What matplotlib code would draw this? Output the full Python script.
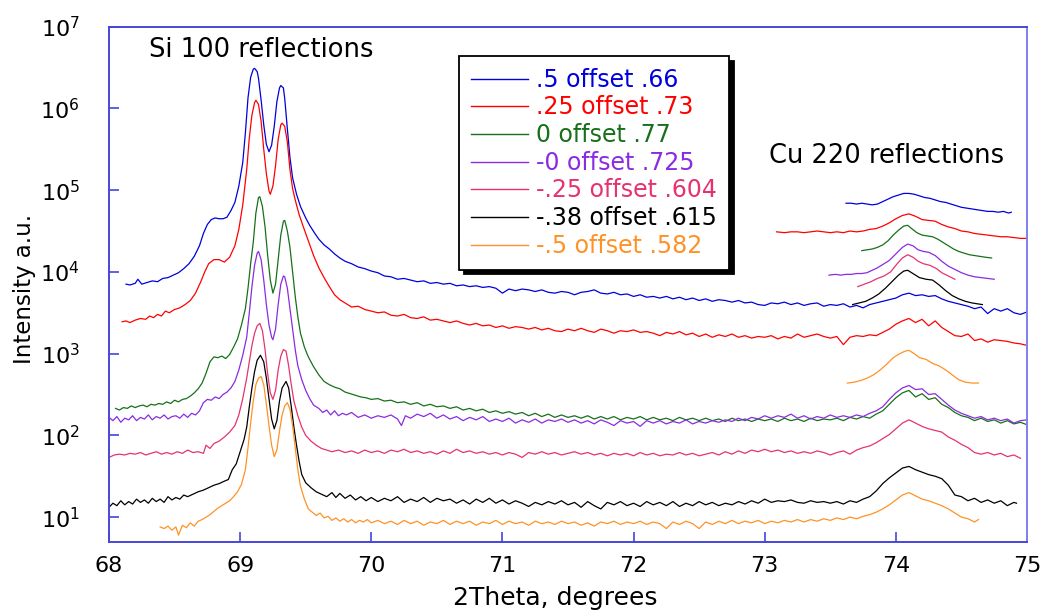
import numpy as np
import matplotlib
matplotlib.use("Agg")
import matplotlib.pyplot as plt

# ---------------- data: (2theta, log10 intensity) ----------------
blue_main = [
    (68.13, 3.85), (68.16, 3.84), (68.20, 3.86), (68.22, 3.91), (68.25, 3.85), (68.29, 3.87),
    (68.33, 3.89), (68.37, 3.88), (68.41, 3.92), (68.45, 3.93), (68.49, 3.96), (68.53, 3.99),
    (68.57, 4.04), (68.61, 4.10), (68.65, 4.19), (68.69, 4.32), (68.72, 4.47), (68.75, 4.58),
    (68.78, 4.64), (68.81, 4.66), (68.84, 4.65), (68.87, 4.65), (68.90, 4.67), (68.93, 4.75),
    (68.96, 4.85), (68.99, 5.05), (69.02, 5.34), (69.04, 5.70), (69.06, 6.13), (69.08, 6.38),
    (69.10, 6.48), (69.11, 6.49), (69.13, 6.45), (69.14, 6.37), (69.16, 6.10), (69.18, 5.80),
    (69.20, 5.56), (69.22, 5.47), (69.24, 5.55), (69.26, 5.78), (69.28, 6.08), (69.30, 6.25),
    (69.31, 6.28), (69.33, 6.25), (69.34, 6.12), (69.36, 5.75), (69.38, 5.40), (69.40, 5.15),
    (69.43, 4.95), (69.46, 4.80), (69.50, 4.66), (69.53, 4.57), (69.57, 4.47), (69.60, 4.40),
    (69.64, 4.33), (69.68, 4.28), (69.72, 4.22), (69.76, 4.17), (69.80, 4.13), (69.85, 4.10),
    (69.90, 4.06), (69.95, 4.04), (70.00, 4.01), (70.05, 3.99), (70.10, 3.95), (70.15, 3.94),
    (70.20, 3.91), (70.25, 3.92), (70.30, 3.90), (70.35, 3.88), (70.40, 3.89), (70.45, 3.86),
    (70.50, 3.87), (70.55, 3.85), (70.60, 3.86), (70.65, 3.83), (70.70, 3.84), (70.75, 3.82),
    (70.80, 3.83), (70.85, 3.81), (70.90, 3.82), (70.95, 3.80), (71.00, 3.74), (71.05, 3.79),
    (71.10, 3.77), (71.15, 3.79), (71.20, 3.78), (71.25, 3.76), (71.30, 3.78), (71.35, 3.75),
    (71.40, 3.74), (71.45, 3.76), (71.50, 3.75), (71.55, 3.72), (71.60, 3.75), (71.65, 3.76),
    (71.70, 3.78), (71.75, 3.74), (71.80, 3.73), (71.85, 3.75), (71.90, 3.72), (71.95, 3.73),
    (72.00, 3.70), (72.05, 3.72), (72.10, 3.69), (72.15, 3.70), (72.20, 3.68), (72.25, 3.70),
    (72.30, 3.67), (72.35, 3.69), (72.40, 3.66), (72.45, 3.68), (72.50, 3.65), (72.55, 3.67),
    (72.60, 3.64), (72.65, 3.66), (72.70, 3.65), (72.75, 3.63), (72.80, 3.65), (72.85, 3.62),
    (72.90, 3.63), (72.95, 3.60), (73.00, 3.59), (73.05, 3.62), (73.10, 3.61), (73.15, 3.63),
    (73.20, 3.60), (73.25, 3.62), (73.30, 3.59), (73.35, 3.61), (73.40, 3.62), (73.45, 3.58),
    (73.50, 3.60), (73.55, 3.59), (73.60, 3.61), (73.65, 3.57), (73.70, 3.59), (73.75, 3.56),
    (73.80, 3.60), (73.85, 3.62), (73.90, 3.64), (73.95, 3.66), (74.00, 3.68), (74.05, 3.72),
    (74.10, 3.74), (74.15, 3.71), (74.20, 3.72), (74.25, 3.70), (74.30, 3.71), (74.35, 3.67),
    (74.40, 3.64), (74.45, 3.62), (74.50, 3.60), (74.55, 3.58), (74.60, 3.55), (74.65, 3.57),
    (74.70, 3.49), (74.75, 3.55), (74.80, 3.52), (74.85, 3.55), (74.90, 3.50), (74.95, 3.48),
    (75.00, 3.51),
]
blue_cu = [
    (73.62, 4.84), (73.66, 4.84), (73.70, 4.83), (73.74, 4.84), (73.78, 4.83), (73.82, 4.82),
    (73.86, 4.83), (73.90, 4.86), (73.94, 4.89), (73.98, 4.92), (74.02, 4.94), (74.06, 4.96),
    (74.10, 4.96), (74.14, 4.95), (74.18, 4.93), (74.22, 4.91), (74.26, 4.90), (74.30, 4.88),
    (74.34, 4.86), (74.38, 4.85), (74.42, 4.83), (74.46, 4.81), (74.50, 4.79), (74.54, 4.78),
    (74.58, 4.77), (74.62, 4.76), (74.66, 4.75), (74.70, 4.74), (74.74, 4.74), (74.78, 4.73),
    (74.82, 4.74), (74.86, 4.72), (74.88, 4.73),
]
red_main = [
    (68.10, 3.39), (68.13, 3.40), (68.16, 3.38), (68.20, 3.41), (68.24, 3.43), (68.28, 3.42),
    (68.31, 3.46), (68.34, 3.44), (68.37, 3.48), (68.40, 3.46), (68.43, 3.52), (68.46, 3.50),
    (68.50, 3.54), (68.54, 3.56), (68.58, 3.60), (68.62, 3.65), (68.66, 3.74), (68.70, 3.88),
    (68.73, 4.00), (68.76, 4.10), (68.80, 4.15), (68.84, 4.15), (68.88, 4.12), (68.92, 4.18),
    (68.96, 4.32), (68.99, 4.52), (69.02, 4.82), (69.05, 5.25), (69.07, 5.64), (69.09, 5.92),
    (69.11, 6.07), (69.12, 6.10), (69.14, 6.05), (69.16, 5.84), (69.18, 5.50), (69.20, 5.20),
    (69.22, 4.99), (69.23, 4.95), (69.25, 5.05), (69.27, 5.30), (69.29, 5.62), (69.31, 5.80),
    (69.32, 5.82), (69.34, 5.78), (69.36, 5.59), (69.38, 5.25), (69.40, 5.02), (69.42, 4.88),
    (69.45, 4.70), (69.48, 4.56), (69.52, 4.38), (69.56, 4.20), (69.60, 4.05), (69.64, 3.93),
    (69.68, 3.82), (69.72, 3.72), (69.76, 3.66), (69.80, 3.62), (69.85, 3.57), (69.90, 3.58),
    (69.95, 3.54), (70.00, 3.52), (70.05, 3.50), (70.10, 3.51), (70.15, 3.47), (70.20, 3.46),
    (70.25, 3.48), (70.30, 3.44), (70.35, 3.43), (70.40, 3.45), (70.45, 3.41), (70.50, 3.42),
    (70.55, 3.40), (70.60, 3.38), (70.65, 3.40), (70.70, 3.37), (70.75, 3.35), (70.80, 3.37),
    (70.85, 3.34), (70.90, 3.35), (70.95, 3.32), (71.00, 3.34), (71.05, 3.31), (71.10, 3.33),
    (71.15, 3.32), (71.20, 3.30), (71.25, 3.32), (71.30, 3.29), (71.35, 3.31), (71.40, 3.28),
    (71.45, 3.27), (71.50, 3.30), (71.55, 3.28), (71.60, 3.31), (71.65, 3.28), (71.70, 3.26),
    (71.75, 3.30), (71.80, 3.28), (71.85, 3.25), (71.90, 3.28), (71.95, 3.27), (72.00, 3.29),
    (72.05, 3.26), (72.10, 3.27), (72.15, 3.25), (72.20, 3.22), (72.25, 3.26), (72.30, 3.24),
    (72.35, 3.27), (72.40, 3.23), (72.45, 3.25), (72.50, 3.21), (72.55, 3.24), (72.60, 3.20),
    (72.65, 3.23), (72.70, 3.21), (72.75, 3.24), (72.80, 3.20), (72.85, 3.22), (72.90, 3.19),
    (72.95, 3.21), (73.00, 3.20), (73.05, 3.22), (73.10, 3.18), (73.15, 3.21), (73.20, 3.19),
    (73.25, 3.24), (73.30, 3.20), (73.35, 3.22), (73.40, 3.24), (73.45, 3.21), (73.50, 3.19),
    (73.55, 3.21), (73.60, 3.11), (73.65, 3.20), (73.70, 3.22), (73.75, 3.21), (73.80, 3.23),
    (73.85, 3.22), (73.90, 3.26), (73.95, 3.30), (74.00, 3.36), (74.05, 3.40), (74.10, 3.43),
    (74.15, 3.38), (74.20, 3.42), (74.25, 3.34), (74.30, 3.40), (74.35, 3.32), (74.40, 3.27),
    (74.45, 3.22), (74.50, 3.21), (74.55, 3.24), (74.60, 3.16), (74.65, 3.18), (74.70, 3.14),
    (74.75, 3.17), (74.80, 3.16), (74.85, 3.15), (74.90, 3.13), (74.95, 3.12), (75.00, 3.10),
]
red_cu = [
    (73.09, 4.49), (73.15, 4.48), (73.20, 4.49), (73.25, 4.49), (73.30, 4.48), (73.35, 4.49),
    (73.40, 4.50), (73.45, 4.49), (73.50, 4.48), (73.55, 4.49), (73.60, 4.48), (73.65, 4.50),
    (73.70, 4.49), (73.75, 4.50), (73.80, 4.52), (73.85, 4.53), (73.90, 4.56), (73.95, 4.60),
    (74.00, 4.65), (74.05, 4.69), (74.10, 4.71), (74.15, 4.68), (74.20, 4.64), (74.25, 4.63),
    (74.30, 4.62), (74.35, 4.58), (74.40, 4.55), (74.45, 4.53), (74.50, 4.50), (74.55, 4.49),
    (74.60, 4.47), (74.65, 4.46), (74.70, 4.45), (74.75, 4.44), (74.80, 4.43), (74.85, 4.43),
    (74.90, 4.42), (74.95, 4.41), (75.00, 4.41),
]
green_main = [
    (68.05, 2.33), (68.08, 2.31), (68.11, 2.34), (68.14, 2.33), (68.17, 2.36), (68.20, 2.34),
    (68.23, 2.36), (68.26, 2.37), (68.29, 2.35), (68.32, 2.38), (68.35, 2.37), (68.38, 2.39),
    (68.41, 2.38), (68.44, 2.41), (68.47, 2.39), (68.50, 2.43), (68.53, 2.41), (68.56, 2.44),
    (68.59, 2.45), (68.62, 2.48), (68.65, 2.52), (68.68, 2.57), (68.71, 2.64), (68.74, 2.76),
    (68.77, 2.90), (68.80, 2.96), (68.83, 2.95), (68.86, 2.97), (68.89, 2.94), (68.92, 2.99),
    (68.95, 3.08), (68.98, 3.18), (69.01, 3.35), (69.04, 3.55), (69.06, 3.80), (69.08, 4.10),
    (69.10, 4.36), (69.12, 4.72), (69.14, 4.91), (69.15, 4.92), (69.17, 4.80), (69.19, 4.55),
    (69.21, 4.20), (69.23, 3.90), (69.25, 3.74), (69.27, 3.85), (69.29, 4.15), (69.31, 4.45),
    (69.33, 4.62), (69.34, 4.63), (69.36, 4.50), (69.38, 4.30), (69.40, 4.00), (69.42, 3.70),
    (69.44, 3.45), (69.46, 3.25), (69.49, 3.08), (69.52, 2.96), (69.56, 2.84), (69.60, 2.74),
    (69.64, 2.66), (69.68, 2.62), (69.72, 2.59), (69.76, 2.57), (69.80, 2.53), (69.84, 2.51),
    (69.88, 2.49), (69.92, 2.47), (69.96, 2.46), (70.00, 2.44), (70.05, 2.45), (70.10, 2.42),
    (70.15, 2.43), (70.20, 2.40), (70.25, 2.41), (70.30, 2.38), (70.35, 2.40), (70.40, 2.36),
    (70.45, 2.38), (70.50, 2.35), (70.55, 2.36), (70.60, 2.33), (70.65, 2.35), (70.70, 2.31),
    (70.75, 2.33), (70.80, 2.30), (70.85, 2.32), (70.90, 2.28), (70.95, 2.30), (71.00, 2.27),
    (71.05, 2.29), (71.10, 2.26), (71.15, 2.28), (71.20, 2.24), (71.25, 2.27), (71.30, 2.23),
    (71.35, 2.26), (71.40, 2.22), (71.45, 2.25), (71.50, 2.22), (71.55, 2.24), (71.60, 2.21),
    (71.65, 2.24), (71.70, 2.20), (71.75, 2.23), (71.80, 2.20), (71.85, 2.23), (71.90, 2.19),
    (71.95, 2.22), (72.00, 2.20), (72.05, 2.23), (72.10, 2.19), (72.15, 2.22), (72.20, 2.19),
    (72.25, 2.21), (72.30, 2.18), (72.35, 2.22), (72.40, 2.19), (72.45, 2.21), (72.50, 2.18),
    (72.55, 2.21), (72.60, 2.18), (72.65, 2.20), (72.70, 2.17), (72.75, 2.21), (72.80, 2.18),
    (72.85, 2.20), (72.90, 2.17), (72.95, 2.20), (73.00, 2.18), (73.05, 2.20), (73.10, 2.17),
    (73.15, 2.21), (73.20, 2.18), (73.25, 2.20), (73.30, 2.17), (73.35, 2.21), (73.40, 2.18),
    (73.45, 2.20), (73.50, 2.19), (73.55, 2.21), (73.60, 2.18), (73.65, 2.22), (73.70, 2.20),
    (73.75, 2.23), (73.80, 2.21), (73.85, 2.26), (73.90, 2.30), (73.95, 2.38), (74.00, 2.46),
    (74.05, 2.52), (74.10, 2.55), (74.15, 2.47), (74.20, 2.51), (74.25, 2.44), (74.30, 2.46),
    (74.35, 2.38), (74.40, 2.34), (74.45, 2.28), (74.50, 2.24), (74.55, 2.22), (74.60, 2.18),
    (74.65, 2.21), (74.70, 2.17), (74.75, 2.19), (74.80, 2.15), (74.85, 2.18), (74.90, 2.14),
    (74.95, 2.16), (75.00, 2.13),
]
green_cu = [
    (73.74, 4.26), (73.78, 4.27), (73.82, 4.28), (73.86, 4.30), (73.90, 4.33), (73.94, 4.38),
    (73.98, 4.45), (74.02, 4.51), (74.06, 4.56), (74.09, 4.57), (74.12, 4.53), (74.16, 4.48),
    (74.20, 4.45), (74.24, 4.44), (74.28, 4.43), (74.32, 4.40), (74.36, 4.36), (74.40, 4.32),
    (74.44, 4.28), (74.48, 4.25), (74.52, 4.23), (74.56, 4.21), (74.60, 4.20), (74.64, 4.19),
    (74.68, 4.18), (74.73, 4.17),
]
purple_main = [
    (68.00, 2.22), (68.03, 2.18), (68.06, 2.23), (68.09, 2.16), (68.12, 2.21), (68.15, 2.19),
    (68.18, 2.24), (68.21, 2.18), (68.24, 2.22), (68.27, 2.20), (68.30, 2.25), (68.33, 2.19),
    (68.36, 2.23), (68.39, 2.21), (68.42, 2.25), (68.45, 2.20), (68.48, 2.23), (68.51, 2.24),
    (68.54, 2.21), (68.57, 2.26), (68.60, 2.22), (68.63, 2.27), (68.66, 2.25), (68.69, 2.30),
    (68.72, 2.40), (68.75, 2.44), (68.78, 2.43), (68.81, 2.47), (68.84, 2.45), (68.87, 2.50),
    (68.90, 2.53), (68.93, 2.58), (68.96, 2.66), (68.99, 2.80), (69.02, 2.98), (69.05, 3.20),
    (69.07, 3.50), (69.09, 3.82), (69.11, 4.08), (69.13, 4.23), (69.14, 4.25), (69.16, 4.15),
    (69.18, 3.90), (69.20, 3.60), (69.22, 3.35), (69.24, 3.20), (69.25, 3.17), (69.27, 3.30),
    (69.29, 3.60), (69.31, 3.85), (69.33, 3.95), (69.34, 3.94), (69.36, 3.80), (69.38, 3.55),
    (69.40, 3.30), (69.42, 3.05), (69.44, 2.85), (69.47, 2.68), (69.50, 2.55), (69.53, 2.45),
    (69.56, 2.37), (69.60, 2.33), (69.63, 2.28), (69.66, 2.31), (69.69, 2.25), (69.72, 2.30),
    (69.75, 2.24), (69.78, 2.27), (69.81, 2.25), (69.85, 2.28), (69.90, 2.22), (69.95, 2.25),
    (70.00, 2.21), (70.05, 2.24), (70.10, 2.22), (70.15, 2.25), (70.20, 2.20), (70.23, 2.12),
    (70.26, 2.24), (70.30, 2.21), (70.35, 2.26), (70.40, 2.23), (70.45, 2.27), (70.50, 2.21),
    (70.55, 2.25), (70.60, 2.20), (70.65, 2.23), (70.70, 2.18), (70.75, 2.22), (70.80, 2.19),
    (70.85, 2.23), (70.90, 2.17), (70.95, 2.20), (71.00, 2.17), (71.05, 2.21), (71.10, 2.15),
    (71.15, 2.19), (71.20, 2.16), (71.25, 2.20), (71.30, 2.15), (71.35, 2.19), (71.40, 2.17),
    (71.45, 2.20), (71.50, 2.16), (71.55, 2.19), (71.60, 2.15), (71.65, 2.18), (71.70, 2.14),
    (71.75, 2.19), (71.80, 2.16), (71.85, 2.12), (71.90, 2.18), (71.95, 2.15), (72.00, 2.17),
    (72.05, 2.11), (72.10, 2.18), (72.15, 2.15), (72.20, 2.18), (72.25, 2.14), (72.30, 2.17),
    (72.35, 2.15), (72.40, 2.19), (72.45, 2.14), (72.50, 2.17), (72.55, 2.15), (72.60, 2.18),
    (72.65, 2.16), (72.70, 2.19), (72.75, 2.17), (72.80, 2.21), (72.85, 2.18), (72.90, 2.22),
    (72.95, 2.20), (73.00, 2.24), (73.05, 2.21), (73.10, 2.24), (73.15, 2.22), (73.20, 2.26),
    (73.25, 2.21), (73.30, 2.24), (73.35, 2.20), (73.40, 2.23), (73.45, 2.21), (73.50, 2.25),
    (73.55, 2.22), (73.60, 2.24), (73.65, 2.22), (73.70, 2.25), (73.75, 2.23), (73.80, 2.27),
    (73.85, 2.30), (73.90, 2.35), (73.95, 2.44), (74.00, 2.52), (74.05, 2.58), (74.10, 2.61),
    (74.15, 2.56), (74.20, 2.57), (74.25, 2.50), (74.30, 2.51), (74.35, 2.44), (74.40, 2.37),
    (74.45, 2.31), (74.50, 2.27), (74.55, 2.24), (74.60, 2.21), (74.65, 2.23), (74.70, 2.19),
    (74.75, 2.21), (74.80, 2.18), (74.85, 2.20), (74.90, 2.15), (74.95, 2.18), (75.00, 2.19),
]
purple_cu = [
    (73.49, 3.96), (73.54, 3.97), (73.58, 3.96), (73.62, 3.97), (73.66, 3.97), (73.70, 3.98),
    (73.74, 3.98), (73.78, 3.99), (73.82, 4.02), (73.86, 4.05), (73.90, 4.09), (73.95, 4.14),
    (74.00, 4.22), (74.05, 4.30), (74.09, 4.34), (74.13, 4.32), (74.17, 4.27), (74.21, 4.25),
    (74.25, 4.24), (74.30, 4.20), (74.35, 4.13), (74.40, 4.07), (74.45, 4.03), (74.50, 3.99),
    (74.55, 3.96), (74.60, 3.94), (74.65, 3.93), (74.70, 3.92), (74.75, 3.91),
]
pink_main = [
    (68.00, 1.73), (68.04, 1.76), (68.08, 1.77), (68.12, 1.76), (68.16, 1.78), (68.20, 1.77),
    (68.24, 1.79), (68.28, 1.76), (68.32, 1.78), (68.36, 1.80), (68.40, 1.77), (68.44, 1.79),
    (68.48, 1.77), (68.52, 1.80), (68.56, 1.78), (68.60, 1.82), (68.64, 1.79), (68.68, 1.80),
    (68.72, 1.78), (68.74, 1.88), (68.77, 1.84), (68.80, 1.90), (68.84, 1.93), (68.88, 1.98),
    (68.92, 2.04), (68.96, 2.12), (68.99, 2.25), (69.02, 2.45), (69.05, 2.70), (69.07, 2.90),
    (69.09, 3.10), (69.11, 3.25), (69.13, 3.34), (69.15, 3.37), (69.17, 3.28), (69.19, 3.05),
    (69.21, 2.75), (69.23, 2.52), (69.25, 2.44), (69.27, 2.55), (69.29, 2.80), (69.31, 2.97),
    (69.33, 3.05), (69.35, 3.03), (69.37, 2.85), (69.39, 2.62), (69.41, 2.42), (69.44, 2.24),
    (69.47, 2.10), (69.50, 2.00), (69.54, 1.93), (69.58, 1.88), (69.62, 1.84), (69.66, 1.82),
    (69.70, 1.80), (69.75, 1.82), (69.80, 1.79), (69.85, 1.81), (69.90, 1.78), (69.95, 1.82),
    (70.00, 1.79), (70.05, 1.81), (70.10, 1.78), (70.15, 1.82), (70.20, 1.80), (70.25, 1.83),
    (70.30, 1.79), (70.35, 1.81), (70.40, 1.78), (70.45, 1.80), (70.50, 1.77), (70.55, 1.81),
    (70.60, 1.78), (70.65, 1.83), (70.70, 1.79), (70.75, 1.81), (70.80, 1.78), (70.85, 1.80),
    (70.90, 1.77), (70.95, 1.79), (71.00, 1.76), (71.05, 1.79), (71.10, 1.77), (71.15, 1.73),
    (71.20, 1.79), (71.25, 1.77), (71.30, 1.80), (71.35, 1.77), (71.40, 1.79), (71.45, 1.76),
    (71.50, 1.78), (71.55, 1.80), (71.60, 1.77), (71.65, 1.79), (71.70, 1.76), (71.75, 1.78),
    (71.80, 1.75), (71.85, 1.78), (71.90, 1.76), (71.95, 1.78), (72.00, 1.75), (72.05, 1.79),
    (72.10, 1.76), (72.15, 1.78), (72.20, 1.75), (72.25, 1.77), (72.30, 1.76), (72.35, 1.79),
    (72.40, 1.76), (72.45, 1.78), (72.50, 1.75), (72.55, 1.77), (72.60, 1.79), (72.65, 1.76),
    (72.70, 1.80), (72.75, 1.77), (72.80, 1.81), (72.85, 1.78), (72.90, 1.82), (72.95, 1.80),
    (73.00, 1.83), (73.05, 1.80), (73.10, 1.82), (73.15, 1.79), (73.20, 1.81), (73.25, 1.78),
    (73.30, 1.80), (73.35, 1.78), (73.40, 1.81), (73.45, 1.79), (73.50, 1.76), (73.55, 1.79),
    (73.60, 1.81), (73.65, 1.77), (73.70, 1.82), (73.75, 1.85), (73.80, 1.87), (73.85, 1.91),
    (73.90, 1.96), (73.95, 2.01), (74.00, 2.08), (74.05, 2.15), (74.10, 2.19), (74.15, 2.15),
    (74.20, 2.11), (74.25, 2.08), (74.30, 2.06), (74.35, 2.04), (74.40, 1.98), (74.45, 1.94),
    (74.50, 1.89), (74.55, 1.85), (74.60, 1.79), (74.65, 1.77), (74.70, 1.79), (74.75, 1.76),
    (74.80, 1.78), (74.85, 1.74), (74.90, 1.76), (74.95, 1.72),
]
pink_cu = [
    (73.71, 3.82), (73.76, 3.85), (73.81, 3.88), (73.86, 3.92), (73.91, 3.95), (73.96, 4.00),
    (74.01, 4.10), (74.05, 4.17), (74.09, 4.21), (74.13, 4.18), (74.17, 4.13), (74.21, 4.10),
    (74.26, 4.08), (74.31, 4.04), (74.35, 3.99), (74.40, 3.95), (74.45, 3.91),
]
black_main = [
    (68.00, 1.12), (68.03, 1.17), (68.06, 1.14), (68.09, 1.20), (68.12, 1.15), (68.15, 1.19),
    (68.18, 1.16), (68.21, 1.22), (68.24, 1.18), (68.27, 1.21), (68.30, 1.17), (68.33, 1.23),
    (68.36, 1.19), (68.39, 1.22), (68.42, 1.18), (68.45, 1.25), (68.48, 1.21), (68.51, 1.24),
    (68.54, 1.22), (68.57, 1.27), (68.60, 1.25), (68.64, 1.28), (68.68, 1.31), (68.72, 1.33),
    (68.76, 1.36), (68.80, 1.39), (68.84, 1.41), (68.88, 1.44), (68.91, 1.46), (68.94, 1.58),
    (68.97, 1.65), (69.00, 1.80), (69.03, 1.95), (69.05, 2.10), (69.07, 2.35), (69.09, 2.58),
    (69.11, 2.78), (69.13, 2.92), (69.155, 2.98), (69.18, 2.90), (69.20, 2.70), (69.22, 2.45),
    (69.24, 2.20), (69.26, 2.08), (69.28, 2.18), (69.30, 2.42), (69.32, 2.58), (69.35, 2.66),
    (69.37, 2.58), (69.39, 2.35), (69.41, 2.10), (69.43, 1.88), (69.45, 1.68), (69.47, 1.52),
    (69.50, 1.42), (69.54, 1.36), (69.58, 1.31), (69.62, 1.28), (69.66, 1.25), (69.70, 1.30),
    (69.73, 1.24), (69.76, 1.29), (69.80, 1.23), (69.84, 1.27), (69.88, 1.21), (69.92, 1.25),
    (69.96, 1.20), (70.00, 1.24), (70.05, 1.19), (70.10, 1.23), (70.15, 1.20), (70.20, 1.25),
    (70.25, 1.18), (70.30, 1.22), (70.35, 1.19), (70.40, 1.24), (70.45, 1.18), (70.50, 1.23),
    (70.55, 1.20), (70.60, 1.22), (70.65, 1.17), (70.70, 1.21), (70.75, 1.16), (70.80, 1.22),
    (70.85, 1.18), (70.90, 1.23), (70.95, 1.17), (71.00, 1.21), (71.05, 1.16), (71.10, 1.20),
    (71.15, 1.17), (71.20, 1.13), (71.25, 1.18), (71.30, 1.15), (71.35, 1.19), (71.40, 1.16),
    (71.45, 1.20), (71.50, 1.15), (71.55, 1.18), (71.60, 1.12), (71.65, 1.19), (71.70, 1.14),
    (71.75, 1.10), (71.80, 1.18), (71.85, 1.15), (71.90, 1.19), (71.95, 1.14), (72.00, 1.17),
    (72.05, 1.13), (72.10, 1.19), (72.15, 1.15), (72.20, 1.18), (72.25, 1.14), (72.30, 1.19),
    (72.35, 1.13), (72.40, 1.17), (72.45, 1.14), (72.50, 1.19), (72.55, 1.15), (72.60, 1.18),
    (72.65, 1.14), (72.70, 1.17), (72.75, 1.15), (72.80, 1.19), (72.85, 1.16), (72.90, 1.20),
    (72.95, 1.17), (73.00, 1.22), (73.05, 1.18), (73.10, 1.20), (73.15, 1.19), (73.20, 1.21),
    (73.25, 1.18), (73.30, 1.17), (73.35, 1.20), (73.40, 1.18), (73.45, 1.19), (73.50, 1.17),
    (73.55, 1.19), (73.60, 1.16), (73.65, 1.20), (73.70, 1.18), (73.75, 1.22), (73.80, 1.25),
    (73.85, 1.32), (73.90, 1.41), (73.95, 1.48), (74.00, 1.54), (74.05, 1.60), (74.10, 1.62),
    (74.15, 1.58), (74.20, 1.55), (74.25, 1.52), (74.30, 1.50), (74.35, 1.47), (74.40, 1.39),
    (74.45, 1.27), (74.50, 1.25), (74.55, 1.20), (74.60, 1.23), (74.65, 1.18), (74.70, 1.21),
    (74.75, 1.17), (74.80, 1.20), (74.85, 1.14), (74.90, 1.18), (74.92, 1.17),
]
black_cu = [
    (73.67, 3.60), (73.72, 3.62), (73.77, 3.64), (73.82, 3.68), (73.87, 3.73), (73.92, 3.80),
    (73.97, 3.88), (74.02, 3.96), (74.06, 4.01), (74.09, 4.02), (74.13, 3.98), (74.18, 3.93),
    (74.23, 3.91), (74.28, 3.90), (74.33, 3.84), (74.38, 3.77), (74.43, 3.71), (74.48, 3.67),
    (74.53, 3.64), (74.58, 3.62), (74.62, 3.61), (74.66, 3.60),
]
orange_main = [
    (68.39, 0.88), (68.42, 0.86), (68.45, 0.89), (68.48, 0.84), (68.51, 0.88), (68.53, 0.78),
    (68.56, 0.90), (68.59, 0.87), (68.62, 0.93), (68.65, 0.89), (68.68, 0.95), (68.71, 0.97),
    (68.74, 1.00), (68.77, 1.03), (68.80, 1.07), (68.83, 1.11), (68.86, 1.14), (68.89, 1.17),
    (68.92, 1.20), (68.95, 1.25), (68.98, 1.31), (69.01, 1.40), (69.04, 1.58), (69.06, 1.85),
    (69.08, 2.15), (69.10, 2.42), (69.12, 2.62), (69.14, 2.70), (69.16, 2.72), (69.18, 2.62),
    (69.20, 2.38), (69.22, 2.12), (69.24, 1.88), (69.26, 1.74), (69.28, 1.82), (69.30, 2.05),
    (69.32, 2.25), (69.34, 2.36), (69.36, 2.40), (69.38, 2.32), (69.40, 2.12), (69.42, 1.85),
    (69.44, 1.58), (69.46, 1.38), (69.49, 1.22), (69.52, 1.10), (69.55, 1.06), (69.58, 1.02),
    (69.61, 1.05), (69.64, 0.99), (69.67, 1.01), (69.70, 0.96), (69.73, 0.99), (69.76, 0.95),
    (69.79, 0.98), (69.82, 0.94), (69.85, 0.97), (69.88, 0.93), (69.91, 0.96), (69.94, 0.94),
    (69.97, 0.97), (70.00, 0.93), (70.05, 0.96), (70.10, 0.92), (70.15, 0.95), (70.20, 0.91),
    (70.25, 0.96), (70.30, 0.92), (70.35, 0.95), (70.40, 0.90), (70.45, 0.94), (70.50, 0.92),
    (70.55, 0.96), (70.60, 0.91), (70.65, 0.95), (70.70, 0.92), (70.75, 0.95), (70.80, 0.90),
    (70.85, 0.94), (70.90, 0.92), (70.95, 0.96), (71.00, 0.91), (71.05, 0.95), (71.10, 0.92),
    (71.15, 0.94), (71.20, 0.90), (71.25, 0.95), (71.30, 0.92), (71.35, 0.94), (71.40, 0.91),
    (71.45, 0.95), (71.50, 0.92), (71.55, 0.94), (71.60, 0.90), (71.65, 0.93), (71.70, 0.89),
    (71.75, 0.94), (71.80, 0.92), (71.85, 0.95), (71.90, 0.91), (71.95, 0.94), (72.00, 0.92),
    (72.05, 0.95), (72.10, 0.91), (72.15, 0.94), (72.20, 0.92), (72.25, 0.86), (72.30, 0.94),
    (72.35, 0.91), (72.40, 0.95), (72.45, 0.92), (72.50, 0.86), (72.55, 0.94), (72.60, 0.91),
    (72.65, 0.95), (72.70, 0.92), (72.75, 0.96), (72.80, 0.92), (72.85, 0.95), (72.90, 0.93),
    (72.95, 0.96), (73.00, 0.92), (73.05, 0.95), (73.10, 0.93), (73.15, 0.96), (73.20, 0.94),
    (73.25, 0.97), (73.30, 0.94), (73.35, 0.97), (73.40, 0.95), (73.45, 0.98), (73.50, 0.96),
    (73.55, 0.99), (73.60, 0.97), (73.65, 1.00), (73.70, 0.98), (73.75, 1.01), (73.80, 1.03),
    (73.85, 1.06), (73.90, 1.10), (73.95, 1.15), (74.00, 1.21), (74.05, 1.27), (74.10, 1.30),
    (74.15, 1.26), (74.20, 1.22), (74.25, 1.20), (74.30, 1.17), (74.35, 1.14), (74.40, 1.10),
    (74.45, 1.05), (74.50, 1.00), (74.55, 0.98), (74.60, 0.94), (74.63, 0.97),
]
orange_cu = [
    (73.63, 2.64), (73.68, 2.65), (73.73, 2.67), (73.78, 2.70), (73.83, 2.74), (73.88, 2.80),
    (73.93, 2.87), (73.98, 2.95), (74.03, 3.00), (74.07, 3.03), (74.10, 3.04), (74.14, 3.00),
    (74.18, 2.95), (74.23, 2.93), (74.28, 2.88), (74.33, 2.85), (74.38, 2.80), (74.43, 2.74),
    (74.48, 2.68), (74.53, 2.65), (74.58, 2.64), (74.63, 2.64),
]

labels = [".5 offset .66", ".25 offset .73", "0 offset .77", "-0 offset .725",
          "-.25 offset .604", "-.38 offset .615", "-.5 offset .582"]
colors = ["#0000DD", "#FF0000", "#17701A", "#8A2BE2", "#E6336E", "#000000", "#FF9226"]
main_series = [blue_main, red_main, green_main, purple_main, pink_main, black_main, orange_main]
cu_series = [blue_cu, red_cu, green_cu, purple_cu, pink_cu, black_cu, orange_cu]

# ---------------- figure ----------------
fig = plt.figure(figsize=(10.47, 6.16), dpi=100)
ax = fig.add_axes([0.1041, 0.1206, 0.8768, 0.8361])
ax.set_yscale("log")

for data, cu, col, lab in zip(main_series, cu_series, colors, labels):
    arr = np.array(data)
    ax.plot(arr[:, 0], 10 ** arr[:, 1], color=col, lw=0.9, label=lab)
    carr = np.array(cu)
    ax.plot(carr[:, 0], 10 ** carr[:, 1], color=col, lw=0.9)

ax.set_xlim(68, 75)
ax.set_ylim(5.0, 1e7)
ax.set_xticks([68, 69, 70, 71, 72, 73, 74, 75])
ax.set_yticks([1e1, 1e2, 1e3, 1e4, 1e5, 1e6, 1e7])
ax.yaxis.set_minor_locator(matplotlib.ticker.NullLocator())
ax.xaxis.set_minor_locator(matplotlib.ticker.NullLocator())

spine_col = "#4646DC"
for s in ax.spines.values():
    s.set_color(spine_col)
    s.set_linewidth(1.4)
ax.spines["right"].set_color("#8080EE")

ax.tick_params(axis="both", direction="in", length=7, width=1.2, color=spine_col,
               labelcolor="black", labelsize=16)
ax.tick_params(axis="x", pad=10)
ax.tick_params(axis="y", pad=21)

ax.set_xlabel("2Theta, degrees", fontsize=18)
ax.xaxis.set_label_coords(0.486, -0.086)
ax.set_ylabel("Intensity a.u.", fontsize=16.5)
ax.yaxis.set_label_coords(-0.080, 0.49)

ax.text(69.16, 10 ** 6.625, "Si 100 reflections", fontsize=18.5, ha="center", va="baseline")
ax.text(73.93, 10 ** 5.328, "Cu 220 reflections", fontsize=18.5, ha="center", va="baseline")

leg_kw = dict(loc="upper left", bbox_to_anchor=(0.381, 0.943), borderaxespad=0,
              frameon=True, fancybox=False, edgecolor="black", framealpha=1,
              fontsize=17, handlelength=2.45, handletextpad=0.34, labelspacing=0.155,
              borderpad=0.5, labelcolor="linecolor")
try:
    leg = ax.legend(shadow={"ox": 3.5, "oy": -3.5, "color": "black", "alpha": 1.0}, **leg_kw)
except Exception:
    leg = ax.legend(shadow=True, **leg_kw)
leg.get_frame().set_linewidth(1.3)
for ln in leg.get_lines():
    ln.set_linewidth(1.0)

fig.savefig("out.png", dpi=100)
